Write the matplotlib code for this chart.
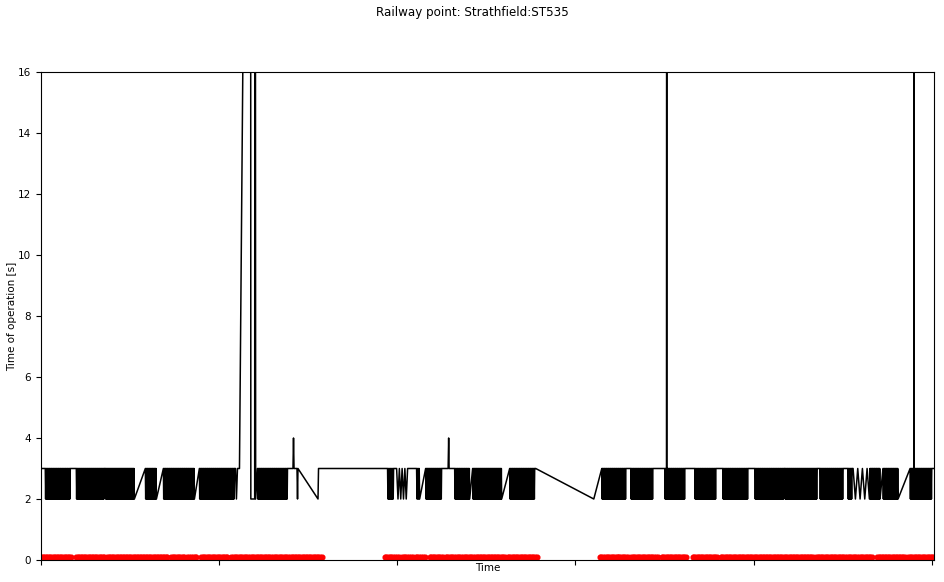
import numpy as np
import matplotlib.pyplot as plt

# time axis: hours from the first record (ticks every 24 h, labels hidden)
# periods where the point switches back and forth between 3 s and 2 s
burst_start = [0.58, 4.76, 8.67, 14.06, 16.49, 21.34, 29.16,
               46.69, 47.91, 50.60, 51.82, 55.73, 58.15, 63.14,
               75.55, 79.46, 84.04, 88.09, 91.86, 96.18, 100.22, 104.94,
               108.71, 109.40, 111.68, 113.43, 117.08]
burst_end = [3.95, 8.53, 12.58, 15.55, 20.67, 26.06, 33.21,
             47.50, 49.39, 51.01, 53.97, 57.75, 62.06, 66.51,
             78.79, 82.43, 86.74, 90.92, 95.23, 100.09, 104.54, 108.04,
             109.25, 111.60, 113.03, 115.46, 120.00]
burst_count = [73, 85, 88, 32, 92, 105, 89,
               17, 9, 8, 49, 44, 88, 73,
               73, 65, 61, 61, 73, 85, 97, 69,
               13, 8, 32, 44, 65]

# single readings: flat runs, slopes and spikes (spikes above 16 s are clipped)
point_time = [0.00, 26.20, 26.33, 26.47, 26.74, 28.22, 28.27, 28.79, 28.84, 28.92,
              33.95, 34.02, 34.09, 34.49, 34.56, 34.62, 37.32, 37.39,
              54.85, 54.92, 54.98, 66.65, 74.47, 84.31, 117.61, 120.30]
point_value = [3, 3, 2, 3, 3, 46, 2, 2, 46, 2,
               3, 4, 3, 3, 2, 3, 2, 3,
               3, 4, 3, 3, 2, 46, 46, 3]

# red markers along the bottom
mark_start = [0.00, 4.72, 8.94, 17.53, 19.73, 21.57, 25.62, 27.95, 31.05, 33.75,
              46.29, 48.18, 48.85, 50.47, 52.35, 54.51, 57.07, 58.69, 62.87,
              75.28, 77.70, 79.46, 81.88, 83.63, 87.81, 91.59, 96.18, 100.22,
              104.40, 108.58, 110.20, 112.63, 116.81]
mark_end = [4.04, 8.53, 17.03, 19.32, 20.94, 25.12, 27.68, 30.78, 33.48, 37.80,
            47.91, 48.58, 50.07, 51.68, 54.10, 56.80, 58.42, 62.46, 66.78,
            77.57, 79.05, 81.75, 83.09, 86.87, 91.05, 95.91, 99.95, 104.00,
            108.32, 109.93, 111.96, 116.40, 120.30]
mark_count = [20, 19, 40, 9, 6, 17, 10, 14, 12, 20,
              8, 2, 6, 6, 9, 11, 7, 19, 19,
              11, 7, 11, 6, 16, 16, 21, 19, 19,
              19, 7, 9, 19, 17]

times = list(point_time)
values = list(point_value)
for t0, t1, n in zip(burst_start, burst_end, burst_count):
    times += list(np.linspace(t0, t1, n))
    values += [3 if i % 2 == 0 else 2 for i in range(n)]
times = np.array(times)
values = np.array(values)
order = np.argsort(times, kind="stable")
times = times[order]
values = values[order]

mark_times = np.concatenate([np.linspace(a, b, n) for a, b, n in zip(mark_start, mark_end, mark_count)])

fig, ax = plt.subplots(figsize=(9.44, 5.82), dpi=100)
fig.subplots_adjust(left=0.0434, right=0.9894, bottom=0.0378, top=0.8763)

ax.plot(times, values, color="black", linewidth=1.1)
ax.plot(mark_times, np.full(len(mark_times), 0.1), "o", color="red", markersize=3.4)

ax.set_ylim(0, 16)
ax.set_xlim(0, 120.3)
ax.set_yticks(range(0, 17, 2))
ax.set_xticks([0, 24, 48, 72, 96, 120])
ax.set_xticklabels([])
ax.tick_params(labelsize=7.5)
ax.set_xlabel("Time", fontsize=7.5, labelpad=-5)
ax.set_ylabel("Time of operation [s]", fontsize=7.5, labelpad=1)
fig.suptitle("Railway point: Strathfield:ST535", fontsize=8.6, y=0.99)

fig.savefig("out.png", dpi=100)
